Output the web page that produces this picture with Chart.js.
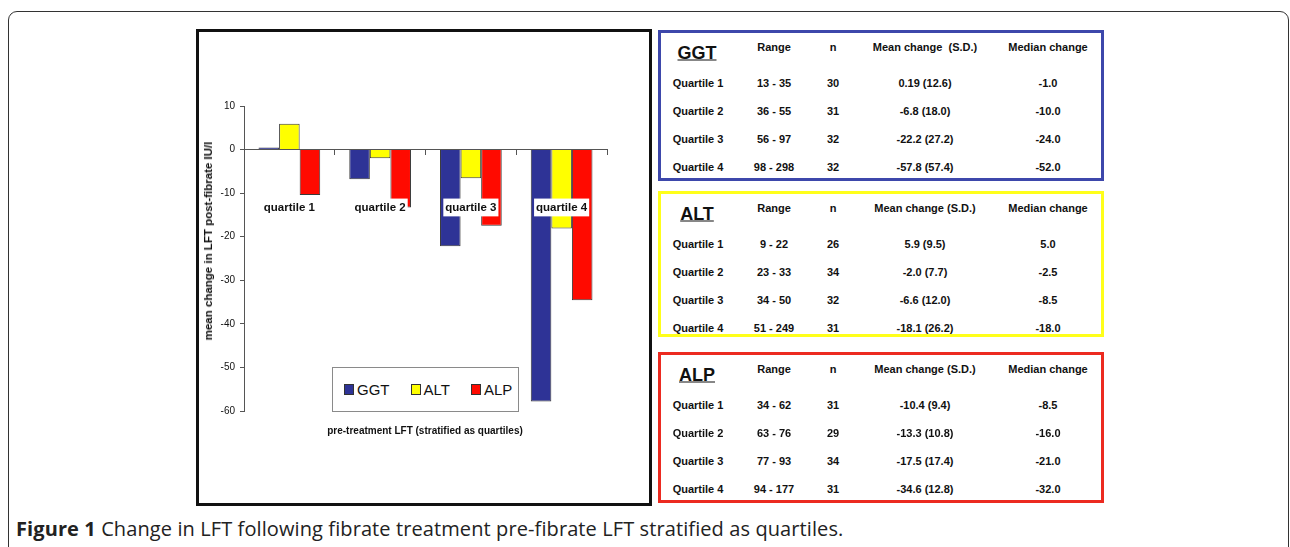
<!DOCTYPE html>
<html>
<head>
<meta charset="utf-8">
<script src="https://cdn.jsdelivr.net/npm/chart.js@4.4.1/dist/chart.umd.min.js"></script>
<style>
  html, body { margin:0; padding:0; background:#fff; }
  body { width:1290px; height:547px; position:relative; overflow:hidden; font-family:"Liberation Sans", Arial, sans-serif; }
  .frame { position:absolute; left:8px; top:11px; width:1281px; height:600px; border:1.5px solid #333; border-radius:9px; box-sizing:border-box; }
  .chartbox { position:absolute; left:196px; top:29px; width:456px; height:477px; border:3px solid #111; box-sizing:border-box; background:#fff; }
  #cv { position:absolute; left:199px; top:32px; }
  .ytitle { position:absolute; left:208px; top:241px; transform:translate(-50%,-50%) rotate(-90deg); white-space:nowrap; font-weight:bold; font-size:11.5px; color:#111; }
  .xtitle { position:absolute; left:425px; top:430px; transform:translate(-50%,-50%); white-space:nowrap; font-weight:bold; font-size:10px; color:#111; }
  .legend { position:absolute; left:332px; top:367px; width:187px; height:45px; border:1px solid #8a8a8a; box-sizing:border-box; background:#fff; display:flex; align-items:center; padding-left:11px; }
  .litem { display:flex; align-items:center; margin-right:21px; font-size:15px; color:#111; }
  .lmark { width:10px; height:11px; border:1px solid #333; box-sizing:border-box; margin-right:3px; }
  .tbox { position:absolute; left:658px; width:446px; border:3px solid; box-sizing:border-box; }
  .cell { position:absolute; transform:translate(-50%,-50%); white-space:pre; font-weight:bold; font-size:11px; color:#111; }
  .ttl { position:absolute; transform:translate(-50%,-50%); font-weight:bold; font-size:18px; text-decoration:underline; color:#111; }
  .caption { position:absolute; left:16px; top:528px; transform:translateY(-50%); font-family:"Open Sans", "Noto Sans", sans-serif; font-size:20px; letter-spacing:0.1px; color:#222; white-space:nowrap; }
</style>
</head>
<body>
<div class="frame"></div>
<div class="chartbox"></div>
<canvas id="cv" width="450" height="471" style="width:450px;height:471px;"></canvas>
<div class="ytitle">mean change in LFT post-fibrate IU/l</div>
<div class="xtitle">pre-treatment LFT (stratified as quartiles)</div>
<div class="legend" id="legend"></div>
<div id="tables"></div>
<div class="caption"><b>Figure 1</b> Change in LFT following fibrate treatment pre-fibrate LFT stratified as quartiles.</div>
<script>
// ---- chart data ----
const categories = ['quartile 1', 'quartile 2', 'quartile 3', 'quartile 4'];
const seriesNames = ['GGT', 'ALT', 'ALP'];
const ggtMean = [0.19, -6.8, -22.2, -57.8];
const altMean = [5.9, -2.0, -6.6, -18.1];
const alpMean = [-10.4, -13.3, -17.5, -34.6];
const seriesColors = ['#2e3396', '#ffff00', '#ff0a00'];
const yMin = -60, yMax = 10, yStep = 10;

// ---- table data ----
const rowLabels = ['Quartile 1', 'Quartile 2', 'Quartile 3', 'Quartile 4'];
const ggtRange = ['13 - 35', '36 - 55', '56 - 97', '98 - 298'];
const ggtN = [30, 31, 32, 32];
const ggtSD = [12.6, 18.0, 27.2, 57.4];
const ggtMedian = [-1.0, -10.0, -24.0, -52.0];
const altRange = ['9 - 22', '23 - 33', '34 - 50', '51 - 249'];
const altN = [26, 34, 32, 31];
const altSD = [9.5, 7.7, 12.0, 26.2];
const altMedian = [5.0, -2.5, -8.5, -18.0];
const alpRange = ['34 - 62', '63 - 76', '77 - 93', '94 - 177'];
const alpN = [31, 29, 34, 31];
const alpSD = [9.4, 10.8, 17.4, 12.8];
const alpMedian = [-8.5, -16.0, -21.0, -32.0];

const seriesValues = [ggtMean, altMean, alpMean];
const FONT = '"Liberation Sans", Arial, sans-serif';

// legend (HTML)
const legendEl = document.getElementById('legend');
seriesNames.forEach((n, i) => {
  const it = document.createElement('div'); it.className = 'litem';
  const m = document.createElement('div'); m.className = 'lmark'; m.style.background = seriesColors[i];
  const t = document.createElement('span'); t.textContent = n;
  it.appendChild(m); it.appendChild(t); legendEl.appendChild(it);
});

// tables (HTML)
function fmtMean(v) { return Number.isInteger(Math.round(v * 100) / 10) ? v.toFixed(1) : String(v); }
const tables = [
  { name: 'GGT', color: '#3d47ab', top: 30, height: 151, header: 'Mean change  (S.D.)', mean: ggtMean, range: ggtRange, n: ggtN, sd: ggtSD, med: ggtMedian },
  { name: 'ALT', color: '#ffff1a', top: 191, height: 146, header: 'Mean change (S.D.)', mean: altMean, range: altRange, n: altN, sd: altSD, med: altMedian },
  { name: 'ALP', color: '#ec2a20', top: 352, height: 151, header: 'Mean change (S.D.)', mean: alpMean, range: alpRange, n: alpN, sd: alpSD, med: alpMedian }
];
const colX = [698, 774, 833, 925, 1048];
const tablesEl = document.getElementById('tables');
function addCell(cls, text, x, y) {
  const d = document.createElement('div'); d.className = cls; d.textContent = text;
  d.style.left = x + 'px'; d.style.top = y + 'px'; tablesEl.appendChild(d);
}
tables.forEach(t => {
  const b = document.createElement('div'); b.className = 'tbox';
  b.style.top = t.top + 'px'; b.style.height = t.height + 'px'; b.style.borderColor = t.color;
  tablesEl.appendChild(b);
  addCell('ttl', t.name, 697, t.top + 23);
  addCell('cell', 'Range', colX[1], t.top + 17);
  addCell('cell', 'n', colX[2], t.top + 17);
  addCell('cell', t.header, colX[3], t.top + 17);
  addCell('cell', 'Median change', colX[4], t.top + 17);
  rowLabels.forEach((r, i) => {
    const y = t.top + 53 + 28 * i;
    addCell('cell', r, colX[0], y);
    addCell('cell', t.range[i], colX[1], y);
    addCell('cell', String(t.n[i]), colX[2], y);
    addCell('cell', fmtMean(t.mean[i]) + ' (' + t.sd[i].toFixed(1) + ')', colX[3], y);
    addCell('cell', t.med[i].toFixed(1), colX[4], y);
  });
});

// chart
new Chart(document.getElementById('cv'), {
  type: 'bar',
  data: {
    labels: categories,
    datasets: seriesNames.map((n, i) => ({
      label: n,
      data: seriesValues[i],
      backgroundColor: seriesColors[i],
      borderColor: '#3a3a3a',
      borderWidth: 1,
      minBarLength: 2,
      categoryPercentage: 0.68,
      barPercentage: 1
    }))
  },
  options: {
    responsive: false,
    animation: false,
    layout: { padding: { left: 0, top: 74, right: 42, bottom: 92 } },
    plugins: { legend: { display: false }, tooltip: { enabled: false } },
    scales: {
      y: {
        min: yMin, max: yMax,
        ticks: { stepSize: yStep, font: { family: FONT, size: 10 }, color: '#111', padding: 5 },
        grid: { drawOnChartArea: false, tickLength: 4, color: '#555' },
        border: { color: '#555' },
        afterFit(s) { s.width = 45; }
      },
      x: {
        position: { y: 0 },
        grid: { drawOnChartArea: false, tickLength: 5, color: '#555', offset: true },
        border: { color: '#555' },
        ticks: {
          font: { family: FONT, size: 11.5, weight: 'bold' }, color: '#111',
          padding: 46, maxRotation: 0, autoSkip: false,
          showLabelBackdrop: true, backdropColor: '#fff', backdropPadding: 2, z: 1
        }
      }
    }
  }
});
</script>
</body>
</html>
